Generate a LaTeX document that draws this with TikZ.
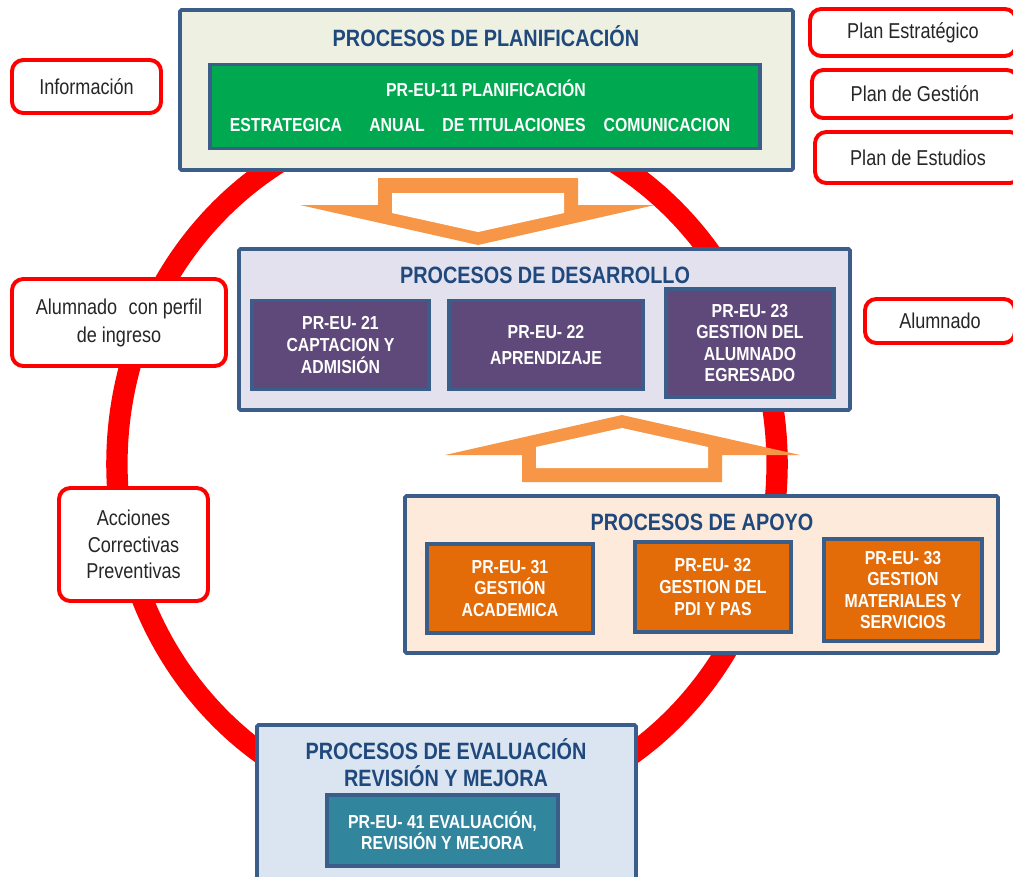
\documentclass[tikz,border=0pt]{standalone}
\usepackage{fontspec}
\setmainfont[FakeStretch=0.84]{Liberation Sans}
\usepackage{xcolor}
\usepackage{tikz}
\usetikzlibrary{positioning}
\newcommand{\pix}{0.025cm}
\definecolor{bordeazul}{HTML}{3B5D89}
\definecolor{tituloazul}{HTML}{1F497D}
\definecolor{fondoplan}{HTML}{EEF0E2}
\definecolor{verdeplan}{HTML}{00A84F}
\definecolor{fondodes}{HTML}{E4E1EE}
\definecolor{morado}{HTML}{5F497A}
\definecolor{fondoapoyo}{HTML}{FDEADA}
\definecolor{naranja}{HTML}{E36C09}
\definecolor{fondoeval}{HTML}{DBE5F1}
\definecolor{azuleval}{HTML}{31859C}
\definecolor{flecha}{HTML}{F79646}

\begin{document}
\begin{tikzpicture}[x=0.025cm,y=-0.025cm,
  grupo/.style={draw=bordeazul,line width=2.6pt,rounded corners=1pt,inner sep=0pt},
  proceso/.style={draw=bordeazul,line width=2.6pt,text=white,align=center,inner sep=0pt,
    font=\bfseries\fontsize{13.4}{15.3}\selectfont},
  titulo/.style={text=tituloazul,align=center,font=\bfseries\fontsize{16.8}{19.2}\selectfont},
  salida/.style={draw=red,line width=2.8pt,fill=white,rounded corners=8pt,align=center,
    text=black!85,inner sep=0pt,font=\fontsize{15.3}{19}\selectfont}]
  \useasboundingbox (0,0) rectangle (1013,876);

  % anillo
  \draw[red,line width=15.2pt] (447,464) ellipse [x radius=8.25cm,y radius=8.75cm];

  % flechas
  \fill[flecha] (378,178) -- (578,178) -- (578,205) -- (655,205) -- (478,245)
    -- (300,205) -- (378,205) -- cycle;
  \fill[white] (392,193) -- (564,193) -- (564,213) -- (478,232) -- (392,213) -- cycle;
  \fill[flecha] (622,415) -- (800,455) -- (722,455) -- (722,482) -- (522,482)
    -- (522,455) -- (445,455) -- cycle;
  \fill[white] (622,428) -- (708,447) -- (708,468) -- (536,468) -- (536,447) -- cycle;

  % planificacion
  \node[grupo,fill=fondoplan,minimum width=613*\pix,minimum height=160*\pix] (planif) at (486.5,90) {};
  \node[titulo] (tplanif) at (486,36) {PROCESOS DE PLANIFICACIÓN};
  \node[proceso,fill=verdeplan,minimum width=550*\pix,minimum height=84*\pix] (pr11) at (485,106.5) {};
  \node[proceso,draw=none] (pr11t) at (486,88) {PR-EU-11 PLANIFICACIÓN};
  \foreach \x/\t [count=\i] in {286/ESTRATEGICA,397/ANUAL,514/DE TITULACIONES,667/COMUNICACION}
    \node[proceso,draw=none] (pr11-\i) at (\x,125) {\t};

  % desarrollo
  \node[grupo,fill=fondodes,minimum width=611*\pix,minimum height=161*\pix] (desarrollo) at (544.5,329.5) {};
  \node[titulo] (tdesarrollo) at (545,275) {PROCESOS DE DESARROLLO};
  \node[proceso,fill=morado,minimum width=177*\pix,minimum height=89*\pix] (pr21) at (340.5,345)
    {PR-EU- 21\\CAPTACION Y\\ADMISIÓN};
  \node[proceso,fill=morado,minimum width=194*\pix,minimum height=89*\pix] (pr22) at (546,345)
    {PR-EU- 22\\[2.5pt]APRENDIZAJE};
  \node[proceso,fill=morado,minimum width=168*\pix,minimum height=108*\pix] (pr23) at (750,343)
    {PR-EU- 23\\GESTION DEL\\ALUMNADO\\EGRESADO};

  % apoyo
  \node[grupo,fill=fondoapoyo,minimum width=593*\pix,minimum height=157*\pix] (apoyo) at (701.5,574.5) {};
  \node[titulo] (tapoyo) at (702,522) {PROCESOS DE APOYO};
  \node[proceso,fill=naranja,minimum width=166*\pix,minimum height=89*\pix] (pr31) at (510,588.5)
    {PR-EU- 31\\GESTIÓN\\ACADEMICA};
  \node[proceso,fill=naranja,minimum width=156*\pix,minimum height=90*\pix] (pr32) at (713,587)
    {PR-EU- 32\\GESTION DEL\\PDI Y PAS};
  \node[proceso,fill=naranja,minimum width=158*\pix,minimum height=102*\pix] (pr33) at (903,590)
    {PR-EU- 33\\GESTION\\MATERIALES Y\\SERVICIOS};

  % evaluacion
  \node[grupo,fill=fondoeval,minimum width=379*\pix,minimum height=163*\pix] (evaluacion) at (446.5,806.5) {};
  \node[titulo] (tevaluacion) at (446,763) {PROCESOS DE EVALUACIÓN\\REVISIÓN Y MEJORA};
  \node[proceso,fill=azuleval,minimum width=231*\pix,minimum height=71*\pix] (pr41) at (442.5,830.5)
    {PR-EU- 41 EVALUACIÓN,\\REVISIÓN Y MEJORA};

  % entradas y salidas
  \node[salida,minimum width=149*\pix,minimum height=53*\pix] (info) at (86.5,86.5) {Información};
  \node[salida,minimum width=214*\pix,minimum height=87*\pix,font=\fontsize{15.3}{20}\selectfont] (perfil) at (119,322.5)
    {Alumnado\hspace{.3em} con perfil\\de ingreso};
  \node[salida,minimum width=149*\pix,minimum height=113*\pix] (acciones) at (133.5,544.5)
    {Acciones\\Correctivas\\Preventivas};
  \node[salida,minimum width=206*\pix,minimum height=47*\pix] (estrategico) at (913,32.5) {Plan Estratégico};
  \node[salida,minimum width=206*\pix,minimum height=48*\pix] (gestion) at (915,94) {Plan de Gestión};
  \node[salida,minimum width=206*\pix,minimum height=51*\pix] (estudios) at (918,157.5) {Plan de Estudios};
  \node[salida,minimum width=150*\pix,minimum height=44*\pix] (alumnado) at (940,321) {Alumnado};
\end{tikzpicture}
\end{document}
